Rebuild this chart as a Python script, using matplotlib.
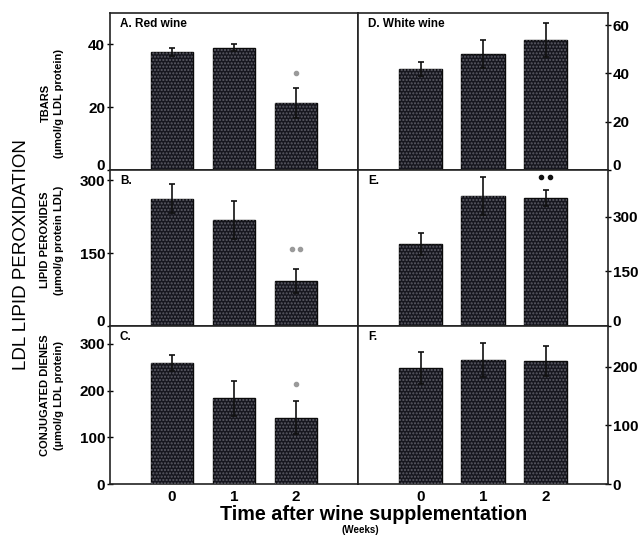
import numpy as np
import matplotlib.pyplot as plt

plt.rcParams['font.family'] = ['Liberation Sans', 'DejaVu Sans']
plt.rcParams['hatch.linewidth'] = 1.0

weeks = [0, 1, 2]
week_labels = ['0', '1', '2']

# red wine (left column)
tbars_red = [37.5, 39.0, 21.3]
tbars_red_err = [1.2, 1.0, 4.7]
perox_red = [262, 219, 92]
perox_red_err = [30, 39, 25]
dienes_red = [258, 183, 142]
dienes_red_err = [17, 38, 36]

# white wine (right column)
tbars_white = [41.8, 48.0, 53.8]
tbars_white_err = [2.9, 5.8, 7.0]
perox_white = [226, 357, 352]
perox_white_err = [30, 52, 22]
dienes_white = [198, 212, 210]
dienes_white_err = [27, 29, 26]

panels = [
    # (row, col, values, errors, ylim, ticks, title, marks)
    (0, 0, tbars_red, tbars_red_err, 50, [0, 20, 40], 'A. Red wine', (31, 1, '#9a9a9a')),
    (1, 0, perox_red, perox_red_err, 321, [0, 150, 300], 'B.', (158, 2, '#9a9a9a')),
    (2, 0, dienes_red, dienes_red_err, 338, [0, 100, 200, 300], 'C.', (213, 1, '#9a9a9a')),
    (0, 1, tbars_white, tbars_white_err, 65, [0, 20, 40, 60], 'D. White wine', None),
    (1, 1, perox_white, perox_white_err, 428, [0, 150, 300], 'E.', (409, 2, '#111111')),
    (2, 1, dienes_white, dienes_white_err, 270, [0, 100, 200], 'F.', None),
]

fig = plt.figure(figsize=(6.43, 5.35), dpi=100)

W, H = 643.0, 535.0
col_x = [110, 358, 608]
row_y = [13, 170, 326, 484]

for row, col, vals, errs, ytop, ticks, title, marks in panels:
    left = col_x[col] / W
    width = (col_x[col + 1] - col_x[col]) / W
    bottom = 1 - row_y[row + 1] / H
    height = (row_y[row + 1] - row_y[row]) / H
    ax = fig.add_axes([left, bottom, width, height])

    ax.bar(weeks, vals, width=0.69, color='#17171f', edgecolor='#0a0a0a', linewidth=1.0, zorder=2)
    ax.bar(weeks, vals, width=0.69, fill=False, hatch='.....', edgecolor='#5c5c66', linewidth=0, zorder=3)
    ax.errorbar(weeks, vals, yerr=errs, fmt='none', ecolor='#111111', elinewidth=1.2,
                capsize=2, capthick=1.2, zorder=4)

    if marks is not None:
        y, n, c = marks
        xs = [2] if n == 1 else [1.935, 2.065]
        ax.plot(xs, [y] * n, 'o', ms=3, color=c, mec=c, zorder=5)

    ax.set_xlim(-1, 3)
    ax.set_ylim(0, ytop)
    ax.set_yticks(ticks)
    ax.tick_params(axis='y', direction='inout', length=5, width=1.0, labelsize=11, pad=1)
    if col == 1:
        ax.yaxis.tick_right()
        ax.tick_params(axis='y', direction='inout', length=5, pad=1)
    ylabs = ax.get_yticklabels()
    for lab in ylabs:
        lab.set_fontweight('bold')
    if row < 2:
        # keep the zero label clear of the top label of the panel below
        ylabs[0].set_va('baseline')

    ax.tick_params(axis='x', length=0, labelsize=11, pad=4)
    if row == 2:
        ax.set_xticks(weeks)
        ax.set_xticklabels(week_labels, fontweight='bold')
    else:
        ax.set_xticks([])

    for s in ax.spines.values():
        s.set_linewidth(1.2)
        s.set_color('#222222')

    ax.text(0.04, 0.93, title, transform=ax.transAxes, fontsize=8.5, fontweight='bold',
            va='center', ha='left')

# row labels
fig.text(52 / W, 1 - 103 / H, 'TBARS\n(µmol/g LDL protein)', rotation=90, ha='center', va='center',
         fontsize=8, fontweight='bold', linespacing=1.4)
fig.text(52 / W, 1 - 240 / H, 'LIPID PEROXIDES\n(µmol/g protein LDL)', rotation=90, ha='center',
         va='center', fontsize=8, fontweight='bold', linespacing=1.4)
fig.text(52 / W, 1 - 395 / H, 'CONJUGATED DIENES\n(µmol/g LDL protein)', rotation=90, ha='center',
         va='center', fontsize=8, fontweight='bold', linespacing=1.4)

fig.text(22 / W, 1 - 255 / H, 'LDL LIPID PEROXIDATION', rotation=90, ha='center', va='center',
         fontsize=13.5)

fig.text(374 / W, 1 - 515 / H, 'Time after wine supplementation', ha='center', va='center',
         fontsize=14.2, fontweight='bold')
fig.text(360 / W, 1 - 530 / H, '(Weeks)', ha='center', va='center', fontsize=7, fontweight='bold')

fig.savefig('out.png', dpi=100)
